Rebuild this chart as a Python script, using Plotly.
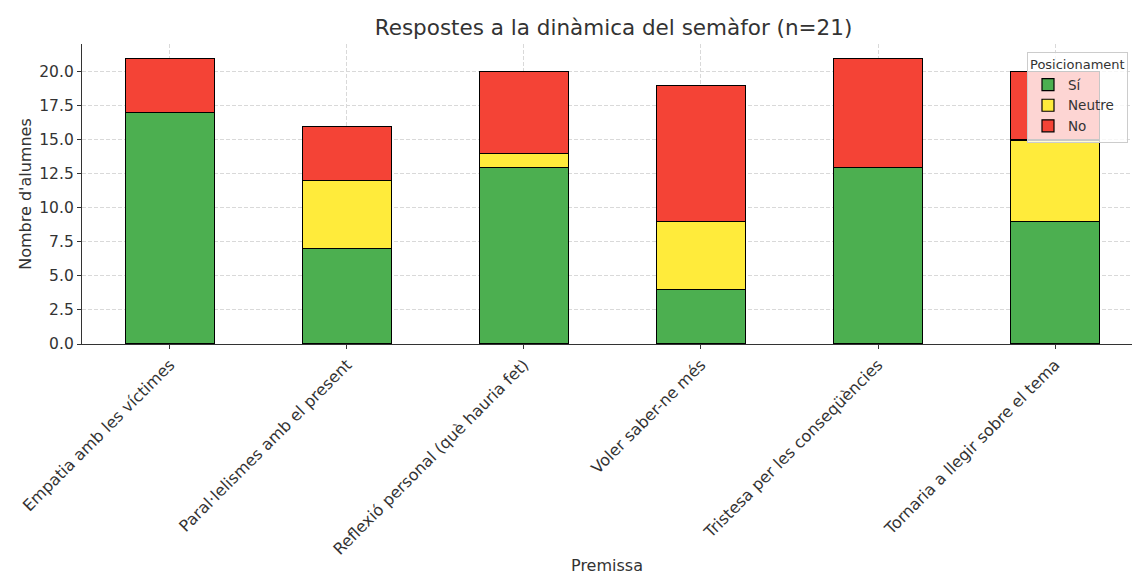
import plotly.graph_objects as go

categories = [
    "Empatia amb les víctimes",
    "Paral·lelismes amb el present",
    "Reflexió personal (què hauria fet)",
    "Voler saber-ne més",
    "Tristesa per les conseqüències",
    "Tornaria a llegir sobre el tema",
]
si = [17, 7, 13, 4, 13, 9]
neutre = [0, 5, 1, 5, 0, 6]
no = [4, 4, 6, 10, 8, 5]

series = [("Sí", si, "#4caf50"), ("Neutre", neutre, "#ffeb3b"), ("No", no, "#f44336")]

FONT = "DejaVu Sans"
TXT = "#333333"

fig = go.Figure()
xs = list(range(len(categories)))
for name, vals, col in series:
    fig.add_trace(go.Bar(
        x=xs, y=vals, name=name, width=0.5,
        marker=dict(color=col, line=dict(color="black", width=1.2)),
    ))

fig.update_layout(
    barmode="stack",
    width=1132, height=575,
    margin=dict(l=82, r=0, t=44, b=231, autoexpand=False),
    paper_bgcolor="white", plot_bgcolor="white",
    font=dict(family=FONT, color=TXT, size=14),
    title=dict(text="Respostes a la dinàmica del semàfor (n=21)", x=0.542, xanchor="center",
               y=0.952, yanchor="middle", font=dict(size=21.5, color=TXT)),
    legend=dict(
        title=dict(text="Posicionament", font=dict(size=13)),
        x=0.9, xanchor="left", y=0.975, yanchor="top",
        bgcolor="rgba(255,255,255,0.78)", bordercolor="#cccccc", borderwidth=1,
        font=dict(size=13.5), traceorder="normal", itemwidth=30,
    ),
    showlegend=True,
)
fig.update_xaxes(
    range=[-0.497, 5.435], tickmode="array", tickvals=xs, ticktext=categories,
    tickangle=-45, showgrid=True, gridcolor="#d9d9d9", griddash="4px,2px", gridwidth=1,
    showline=True, linecolor="#333333", linewidth=1.3, ticks="outside", ticklen=4,
    tickcolor="#333333", tickfont=dict(size=16),
    title=dict(text="Premissa", font=dict(size=16), standoff=4), zeroline=False,
)
fig.update_yaxes(
    range=[0, 22.05], tick0=0, dtick=2.5, tickformat=".1f",
    showgrid=True, gridcolor="#d9d9d9", griddash="4px,2px", gridwidth=1,
    showline=True, linecolor="#333333", linewidth=1.3, ticks="outside", ticklen=4,
    tickcolor="#333333", tickfont=dict(size=15.5),
    title=dict(text="Nombre d'alumnes", font=dict(size=16), standoff=3), zeroline=False,
)

fig.write_html(
    "out.html",
    config={"responsive": False, "displayModeBar": False},
    post_script="document.body.style.margin='0';document.body.style.overflow='hidden';",
)
